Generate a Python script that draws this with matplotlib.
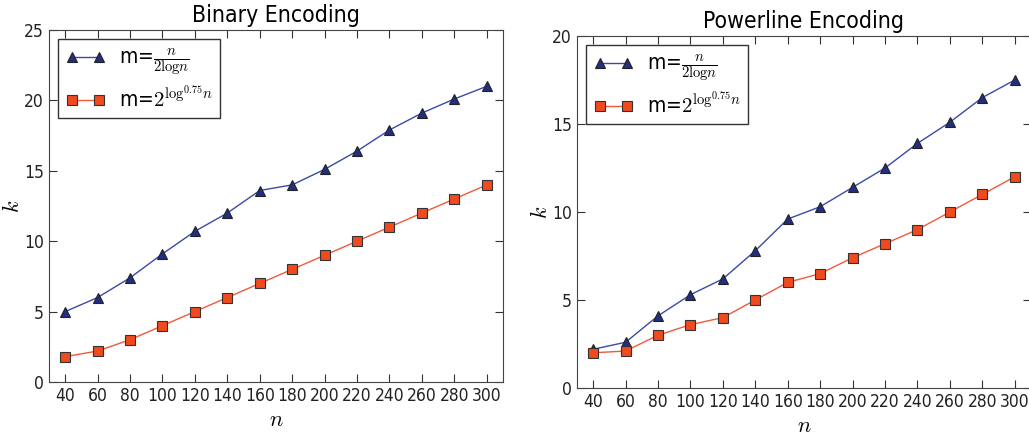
import matplotlib
matplotlib.use("Agg")
import matplotlib.pyplot as plt

n_vals = [40, 60, 80, 100, 120, 140, 160, 180, 200, 220, 240, 260, 280, 300]

# Binary Encoding
bin_frac = [5, 6, 7.4, 9.1, 10.7, 12, 13.6, 14, 15.1, 16.4, 17.9, 19.1, 20.1, 21]
bin_pow = [1.8, 2.2, 3, 4, 5, 6, 7, 8, 9, 10, 11, 12, 13, 14]

# Powerline Encoding
pow_frac = [2.2, 2.6, 4.1, 5.3, 6.2, 7.8, 9.6, 10.3, 11.4, 12.5, 13.9, 15.1, 16.5, 17.5]
pow_pow = [2.0, 2.1, 3.0, 3.6, 4.0, 5.0, 6.0, 6.5, 7.4, 8.2, 9.0, 10.0, 11.0, 12.0]

label1 = r'm=$\frac{n}{2\mathrm{log}n}$'
label2 = r'm=$2^{\mathrm{log}^{0.75}n}$'

plt.rcParams['mathtext.fontset'] = 'cm'
plt.rcParams['font.family'] = 'DejaVu Sans'
plt.rcParams['font.stretch'] = 'condensed'

fig = plt.figure(figsize=(10.29, 4.36), dpi=100)
ax1 = fig.add_axes([0.0476, 0.1239, 0.4412, 0.8073])
ax2 = fig.add_axes([0.5607, 0.1101, 0.4412, 0.8073])

def draw(ax, a, b, title, ymax):
    ax.plot(n_vals, a, color='#3a4aa8', lw=1, marker='^', ms=7,
            mfc='#232e80', mec='#222222', mew=0.8, label=label1)
    ax.plot(n_vals, b, color='#f05a3a', lw=1, marker='s', ms=7,
            mfc='#f04a1e', mec='#333333', mew=0.8, label=label2)
    ax.set_xlim(30, 310)
    ax.set_ylim(0, ymax)
    ax.set_xticks(n_vals)
    ax.set_yticks(range(0, ymax + 1, 5))
    ax.tick_params(direction='in', top=True, right=True, length=6,
                   labelsize=12.5, color='#333333', labelcolor='#222222')
    for s in ax.spines.values():
        s.set_color('#444444')
    ax.set_title(title, fontsize=16.5)
    ax.set_xlabel(r'$n$', fontsize=16)
    ax.set_ylabel(r'$k$', fontsize=16, labelpad=1)
    leg = ax.legend(loc='upper left', numpoints=2, fontsize=15,
                    fancybox=False, framealpha=1, handlelength=1.9,
                    handletextpad=0.65, borderaxespad=0.45, borderpad=0.35,
                    labelspacing=0.3)
    leg.get_frame().set_edgecolor('#333333')

draw(ax1, bin_frac, bin_pow, 'Binary Encoding', 25)
draw(ax2, pow_frac, pow_pow, 'Powerline Encoding', 20)

fig.savefig('out.png', dpi=100, facecolor='white')
